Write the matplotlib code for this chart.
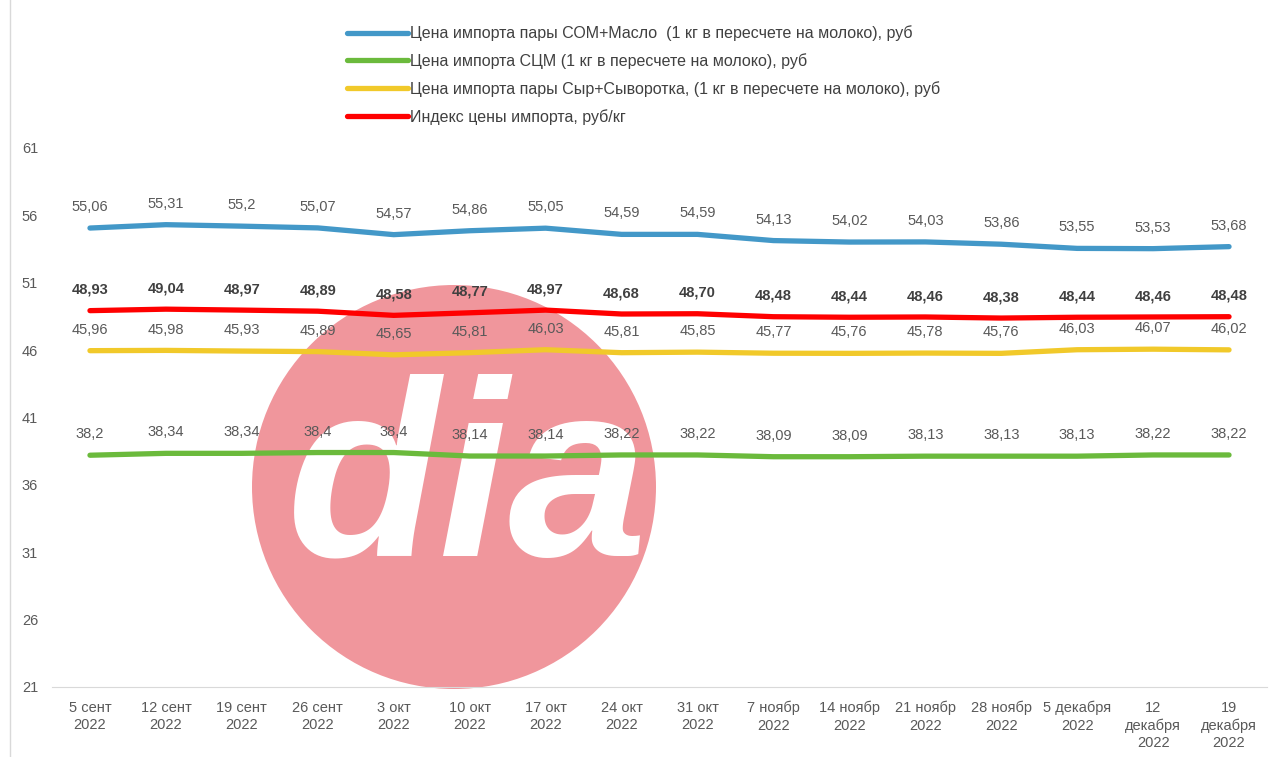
import matplotlib
matplotlib.use("Agg")
from matplotlib import pyplot as plt
from matplotlib.patches import Circle
from matplotlib.lines import Line2D

# ----- data -----
dates = ["5 сент\n2022", "12 сент\n2022", "19 сент\n2022", "26 сент\n2022",
         "3 окт\n2022", "10 окт\n2022", "17 окт\n2022", "24 окт\n2022",
         "31 окт\n2022", "7 ноябр\n2022", "14 ноябр\n2022", "21 ноябр\n2022",
         "28 ноябр\n2022", "5 декабря\n2022", "12\nдекабря\n2022", "19\nдекабря\n2022"]

som_maslo = [55.06, 55.31, 55.2, 55.07, 54.57, 54.86, 55.05, 54.59,
             54.59, 54.13, 54.02, 54.03, 53.86, 53.55, 53.53, 53.68]
scm = [38.2, 38.34, 38.34, 38.4, 38.4, 38.14, 38.14, 38.22,
       38.22, 38.09, 38.09, 38.13, 38.13, 38.13, 38.22, 38.22]
syr_syv = [45.96, 45.98, 45.93, 45.89, 45.65, 45.81, 46.03, 45.81,
           45.85, 45.77, 45.76, 45.78, 45.76, 46.03, 46.07, 46.02]
index_price = [48.93, 49.04, 48.97, 48.89, 48.58, 48.77, 48.97, 48.68,
               48.70, 48.48, 48.44, 48.46, 48.38, 48.44, 48.46, 48.48]

names = ["Цена импорта пары СОМ+Масло  (1 кг в пересчете на молоко), руб",
         "Цена импорта СЦМ (1 кг в пересчете на молоко), руб",
         "Цена импорта пары Сыр+Сыворотка, (1 кг в пересчете на молоко), руб",
         "Индекс цены импорта, руб/кг"]
colors = ["#4398C8", "#6BBA3C", "#F1C92A", "#FF0000"]

plt.rcParams['font.family'] = ['Liberation Sans', 'DejaVu Sans']

fig = plt.figure(figsize=(12.79, 7.57), dpi=100)
ax = fig.add_axes([52 / 1279, 70 / 757, 1215 / 1279, 539 / 757])

x = list(range(len(dates)))
series = [som_maslo, scm, syr_syv, index_price]
for vals, col in zip(series, colors):
    ax.plot(x, vals, color=col, linewidth=3.8, solid_capstyle='round',
            solid_joinstyle='round', zorder=3)

# data labels
for vals in [som_maslo, scm, syr_syv]:
    for xi, v in zip(x, vals):
        txt = ("%g" % v).replace(".", ",")
        ax.annotate(txt, (xi, v), xytext=(0, 10), textcoords='offset points',
                    ha='center', va='bottom', fontsize=10.5, color='#595959',
                    zorder=4)
for xi, v in zip(x, index_price):
    ax.annotate(("%.2f" % v).replace(".", ","), (xi, v), xytext=(0, 10),
                textcoords='offset points', ha='center', va='bottom',
                fontsize=10.5, color='#404040', fontweight='bold', zorder=4)

# watermark logo (behind the lines and labels)
circ = Circle((454, 757 - 487), 202, transform=None, facecolor='#F0969C',
              edgecolor='none', zorder=1, clip_on=False)
ax.add_artist(circ)
ax.text(468 / 1279, 1 - 490 / 757, "dia", transform=fig.transFigure,
        ha='center', va='center', fontsize=180, color='white',
        fontweight='bold', style='italic', zorder=2)

ax.set_xlim(-0.5, len(dates) - 0.5)
ax.set_ylim(21, 61)
ax.set_yticks(range(21, 62, 5))
ax.set_xticks(x)
ax.set_xticklabels(dates, linespacing=1.3)
ax.tick_params(length=0, labelsize=10.5, labelcolor='#595959')
ax.tick_params(axis='x', pad=10)
ax.tick_params(axis='y', pad=10)
for s in ['top', 'right', 'left']:
    ax.spines[s].set_visible(False)
ax.spines['bottom'].set_color('#D9D9D9')
ax.spines['bottom'].set_zorder(5)
ax.patch.set_alpha(0)

handles = [Line2D([], [], color=c, linewidth=3.8, solid_capstyle='round')
           for c in colors]
fig.legend(handles, names, loc='upper left',
           bbox_to_anchor=(333 / 1279, 1 - 11 / 757), frameon=False,
           prop={'size': 11.5}, handlelength=3.8,
           handletextpad=0.1, labelspacing=0.75, labelcolor='#404040')

fig.add_artist(Line2D([10 / 1279, 10 / 1279], [0, 1], color='#D9D9D9',
                      linewidth=1))

plt.savefig("out.png", dpi=100)
